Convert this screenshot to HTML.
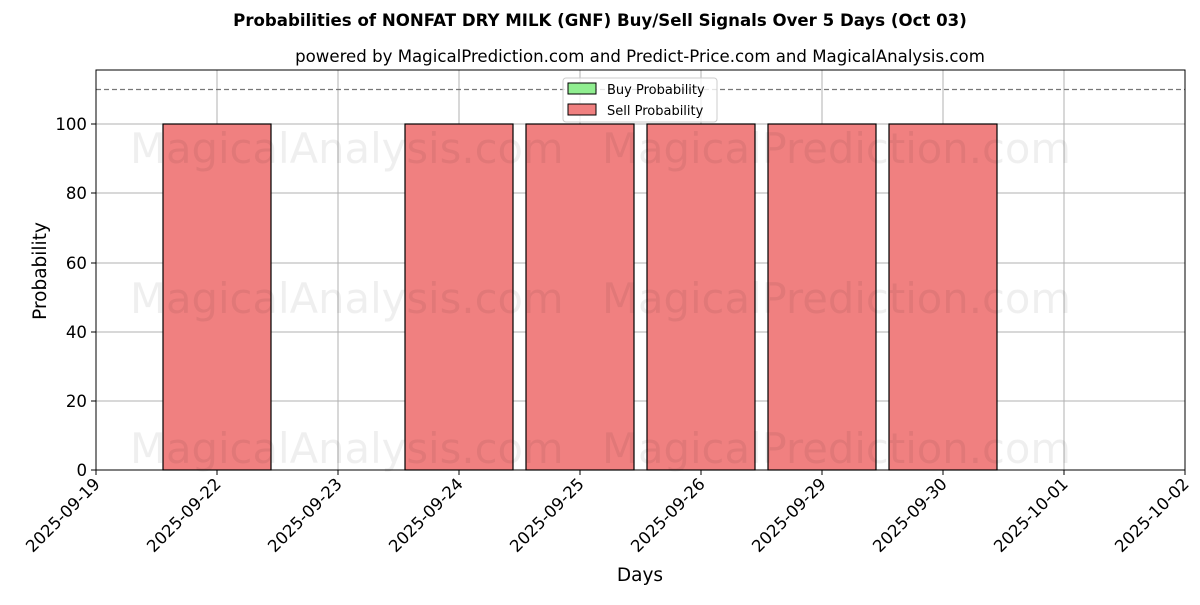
<!DOCTYPE html>
<html><head><meta charset="utf-8"><style>body{margin:0;background:#fff}svg text{font-family:"DejaVu Sans","Liberation Sans",sans-serif}</style></head><body>
<svg width="1200" height="600" xmlns="http://www.w3.org/2000/svg">
<text x="600" y="26" text-anchor="middle" font-size="16.6" font-weight="bold">Probabilities of NONFAT DRY MILK (GNF) Buy/Sell Signals Over 5 Days (Oct 03)</text>
<text x="640" y="62" text-anchor="middle" font-size="16.6">powered by MagicalPrediction.com and Predict-Price.com and MagicalAnalysis.com</text>
<g stroke="#b0b0b0" stroke-width="1">
<line x1="96" y1="70" x2="96" y2="470"/><line x1="217" y1="70" x2="217" y2="470"/><line x1="338" y1="70" x2="338" y2="470"/><line x1="459" y1="70" x2="459" y2="470"/><line x1="580" y1="70" x2="580" y2="470"/><line x1="701" y1="70" x2="701" y2="470"/><line x1="822" y1="70" x2="822" y2="470"/><line x1="943" y1="70" x2="943" y2="470"/><line x1="1064" y1="70" x2="1064" y2="470"/>
<line x1="96" y1="401" x2="1185" y2="401"/><line x1="96" y1="332" x2="1185" y2="332"/><line x1="96" y1="263" x2="1185" y2="263"/><line x1="96" y1="193" x2="1185" y2="193"/><line x1="96" y1="124" x2="1185" y2="124"/>
</g>
<g fill="#f08080" stroke="#000" stroke-width="1.2">
<rect x="163" y="124" width="108" height="346"/><rect x="405" y="124" width="108" height="346"/><rect x="526" y="124" width="108" height="346"/><rect x="647" y="124" width="108" height="346"/><rect x="768" y="124" width="108" height="346"/><rect x="889" y="124" width="108" height="346"/>
</g>
<g font-size="41.7" fill="#000" opacity="0.06">
<text x="130" y="163">MagicalAnalysis.com</text><text x="602" y="163">MagicalPrediction.com</text>
<text x="130" y="313">MagicalAnalysis.com</text><text x="602" y="313">MagicalPrediction.com</text>
<text x="130" y="463">MagicalAnalysis.com</text><text x="602" y="463">MagicalPrediction.com</text>
</g>
<line x1="96" y1="89.5" x2="1185" y2="89.5" stroke="#777" stroke-width="1.2" stroke-dasharray="5,3"/>
<rect x="96" y="70" width="1089" height="400" fill="none" stroke="#000" stroke-width="1"/>
<g stroke="#000"><line x1="91" y1="470" x2="96" y2="470"/><line x1="91" y1="401" x2="96" y2="401"/><line x1="91" y1="332" x2="96" y2="332"/><line x1="91" y1="263" x2="96" y2="263"/><line x1="91" y1="193" x2="96" y2="193"/><line x1="91" y1="124" x2="96" y2="124"/></g>
<g font-size="16.6" text-anchor="end">
<text x="87" y="476">0</text><text x="87" y="407">20</text><text x="87" y="338">40</text><text x="87" y="269">60</text><text x="87" y="199">80</text><text x="87" y="130">100</text>
</g>
<g font-size="16.6" text-anchor="end">
<text transform="translate(101,485) rotate(-45)">2025-09-19</text>
<text transform="translate(222,485) rotate(-45)">2025-09-22</text>
<text transform="translate(343,485) rotate(-45)">2025-09-23</text>
<text transform="translate(464,485) rotate(-45)">2025-09-24</text>
<text transform="translate(585,485) rotate(-45)">2025-09-25</text>
<text transform="translate(706,485) rotate(-45)">2025-09-26</text>
<text transform="translate(827,485) rotate(-45)">2025-09-29</text>
<text transform="translate(948,485) rotate(-45)">2025-09-30</text>
<text transform="translate(1069,485) rotate(-45)">2025-10-01</text>
<text transform="translate(1190,485) rotate(-45)">2025-10-02</text>
</g>
<g stroke="#000"><line x1="96" y1="470" x2="96" y2="475"/><line x1="217" y1="470" x2="217" y2="475"/><line x1="338" y1="470" x2="338" y2="475"/><line x1="459" y1="470" x2="459" y2="475"/><line x1="580" y1="470" x2="580" y2="475"/><line x1="701" y1="470" x2="701" y2="475"/><line x1="822" y1="470" x2="822" y2="475"/><line x1="943" y1="470" x2="943" y2="475"/><line x1="1064" y1="470" x2="1064" y2="475"/><line x1="1185" y1="470" x2="1185" y2="475"/></g>
<text x="640" y="581" text-anchor="middle" font-size="18.5">Days</text>
<text transform="translate(46,271) rotate(-90)" text-anchor="middle" font-size="18.5">Probability</text>
<rect x="563" y="78" width="154" height="44" fill="#fff" fill-opacity="0.8" stroke="#ccc" rx="3"/>
<rect x="568" y="83" width="28" height="11" fill="#90ee90" stroke="#000"/>
<rect x="568" y="104" width="28" height="11" fill="#f08080" stroke="#000"/>
<text x="607" y="94" font-size="13">Buy Probability</text>
<text x="607" y="115" font-size="13">Sell Probability</text>
</svg>
</body></html>
